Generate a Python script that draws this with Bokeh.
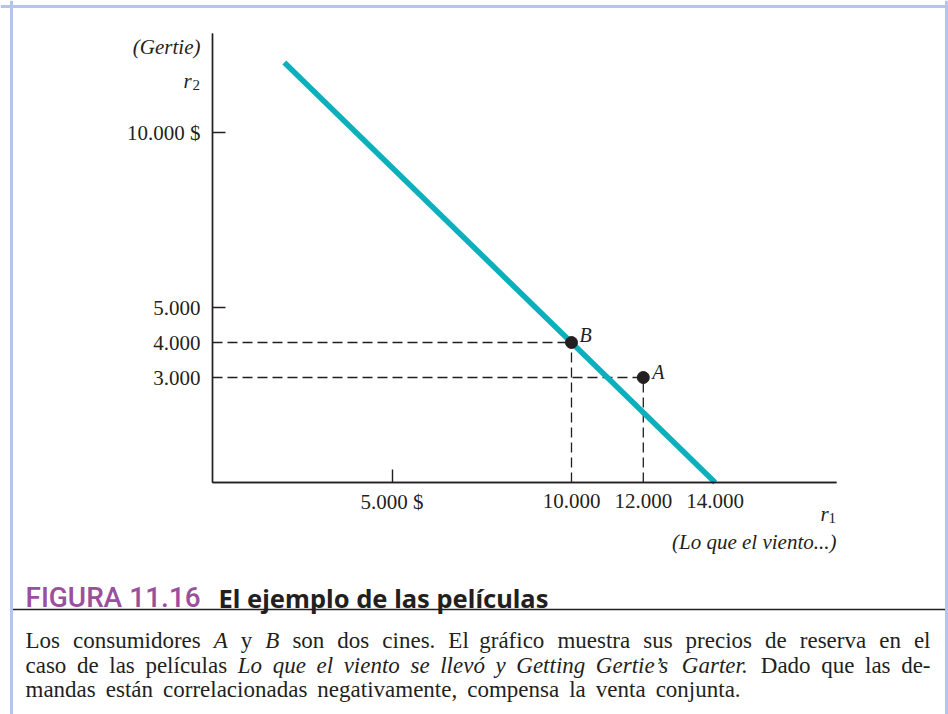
from bokeh.plotting import figure
from bokeh.models import (Range1d, LinearAxis, FixedTicker, Label, Span, BoxAnnotation,
                          ColumnDataSource)
from bokeh.core.properties import value
from bokeh.embed import file_html
from bokeh.resources import INLINE

# ---------------- data ----------------
LINE_R1 = [2000, 14000]          # r1 + r2 = 14.000 $ line
LINE_R2 = [12000, 0]
CONSUMERS = ["A", "B"]
CONS_R1 = [12000, 10000]
CONS_R2 = [3000, 4000]
X_TICKS_MARKED = [5000]
X_TICKS_PLAIN = [10000, 12000, 14000]
Y_TICKS_MARKED = [5000, 10000]
Y_TICKS_PLAIN = [3000, 4000]
X_TICK_LABELS = {5000: "5.000 $", 10000: "10.000", 12000: "12.000", 14000: "14.000"}
Y_TICK_LABELS = {3000: "3.000", 4000: "4.000", 5000: "5.000", 10000: "10.000 $"}

# ---------------- layout / style ----------------
W, H = 948, 714
X0, XS = 212, 0.0359      # canvas px of r1=0, px per unit
Y0, YS = 482, 0.035       # canvas px of r2=0, px per unit
INK = "#231f20"
TEAL = "#0bb0bc"
PURPLE = "#9a4f9f"
FRAME = "#b4c6e8"
SERIF = "Liberation Serif"
SANS = "Noto Sans"


def dx(px):
    return (px - X0) / XS


def dy(py):
    return (Y0 - py) / YS


p = figure(width=W, height=H, output_backend="svg", toolbar_location=None, tools="",
           x_range=Range1d(-X0 / XS, (W - X0) / XS),
           y_range=Range1d((Y0 - H) / YS, Y0 / YS),
           x_axis_type=None, y_axis_type=None, min_border=0, title=None)
p.outline_line_color = None
p.background_fill_color = "white"
p.border_fill_color = "white"


def make_axis(ticks, labels, tick_len, standoff, bounds):
    return LinearAxis(fixed_location=0, bounds=bounds, ticker=FixedTicker(ticks=ticks),
                      major_label_overrides={t: labels[t] for t in ticks},
                      major_tick_in=tick_len, major_tick_out=0,
                      minor_tick_in=0, minor_tick_out=0,
                      axis_line_color=INK, axis_line_width=1.4,
                      major_tick_line_color=INK, major_tick_line_width=1.4,
                      major_label_text_font=SERIF, major_label_text_font_size="21px",
                      major_label_text_color=INK, major_label_standoff=standoff)


xb = (0, dx(836))
yb = (0, dy(33))
p.add_layout(make_axis(X_TICKS_MARKED, X_TICK_LABELS, 13, 7, xb), "below")
p.add_layout(make_axis(X_TICKS_PLAIN, X_TICK_LABELS, 0, 11, xb), "below")
p.add_layout(make_axis(Y_TICKS_MARKED, Y_TICK_LABELS, 13, 12, yb), "left")
p.add_layout(make_axis(Y_TICKS_PLAIN, Y_TICK_LABELS, 0, 12, yb), "left")

src = ColumnDataSource(dict(r1=CONS_R1, r2=CONS_R2, name=CONSUMERS,
                            ox=[9, 8], oy=[-6, -8]))

# dashed guides
p.segment(x0=0, y0="r2", x1="r1", y1="r2", source=src, line_color=INK,
          line_width=1.3, line_dash="10 5")
p.segment(x0="r1", y0=0, x1="r1", y1="r2", source=src, line_color=INK,
          line_width=1.3, line_dash="10 5")

# teal line
p.line(LINE_R1, LINE_R2, line_color=TEAL, line_width=5.5, line_cap="butt")

# consumers
p.scatter("r1", "r2", source=src, size=12, color=INK)
p.text("r1", "r2", text="name", source=src, x_offset="ox", y_offset="oy",
       text_font=value(SERIF), text_font_style="italic", text_font_size="20px",
       text_color=INK, text_baseline="alphabetic", text_align="left")


def lab(text, px, py, size="21px", font=SERIF, style="normal", align="left", color=INK):
    p.add_layout(Label(x=dx(px), y=dy(py), text=text, text_font=font,
                       text_font_size=size, text_font_style=style,
                       text_align=align, text_baseline="alphabetic", text_color=color))


# axis titles
lab("(Gertie)", 200, 46, style="italic", align="right")
lab("r", 183, 80, style="italic")
lab("2", 192, 84, size="15px")
lab("r", 820, 513, style="italic")
lab("1", 828, 517, size="15px")
lab("(Lo que el viento...)", 836, 541, style="italic", align="right")

# frame of the figure box and rule under the caption title
p.add_layout(BoxAnnotation(left=dx(10), right=dx(946), top=dy(608.2), bottom=dy(609.8),
                           fill_color=INK, fill_alpha=1, line_color=None))
for loc in (dx(11), dx(946)):
    p.add_layout(Span(location=loc, dimension="height", line_color=FRAME, line_width=3))
p.add_layout(Span(location=dy(6), dimension="width", line_color=FRAME, line_width=3))

# caption title
lab("FIGURA 11.16", 25, 597, size="28px", font="Roboto Medium, Noto Sans", color=PURPLE)
lab("El ejemplo de las películas", 218, 597, size="25.5px", font=SANS, style="bold")

# caption paragraph: words set between the reference line extents
# (Times/Liberation Serif advance widths, 1/1000 em)
W_REG = dict(zip(" abcdefghijlmnopqrstuvxyzáéíóABDGL.,-’",
                 [250, 444, 500, 444, 500, 444, 333, 500, 500, 278, 278, 278, 778, 500, 500,
                  500, 500, 333, 389, 278, 500, 500, 500, 500, 444, 444, 444, 278, 500,
                  722, 667, 722, 722, 611, 250, 250, 333, 333]))
W_ITA = dict(zip(" abcdefghijlmnopqrstuvxyzáéíóABDGL.,-’",
                 [250, 500, 500, 444, 500, 444, 278, 500, 500, 278, 278, 278, 722, 500, 500,
                  500, 500, 389, 389, 278, 500, 444, 444, 444, 389, 500, 444, 278, 500,
                  611, 611, 722, 722, 556, 250, 250, 333, 333]))
PSIZE = 23
PARA = [
    (640, 25, 930, [("Los", 0), ("consumidores", 0), ("A", 1), ("y", 0), ("B", 1), ("son", 0),
                    ("dos", 0), ("cines.", 0), ("El", 0), ("gráfico", 0), ("muestra", 0),
                    ("sus", 0), ("precios", 0), ("de", 0), ("reserva", 0), ("en", 0), ("el", 0)]),
    (664.5, 25, 930, [("caso", 0), ("de", 0), ("las", 0), ("películas", 0), ("Lo", 1),
                      ("que", 1), ("el", 1), ("viento", 1), ("se", 1), ("llevó", 1), ("y", 1),
                      ("Getting", 1), ("Gertie’s", 1), ("Garter.", 1), ("Dado", 0),
                      ("que", 0), ("las", 0), ("de-", 0)]),
    (689, 25, None, [("mandas", 0), ("están", 0), ("correlacionadas", 0),
                     ("negativamente,", 0), ("compensa", 0), ("la", 0), ("venta", 0),
                     ("conjunta.", 0)]),
]


def word_w(word, ital):
    table = W_ITA if ital else W_REG
    return sum(table.get(c, 500) for c in word) * PSIZE / 1000.0


for base, x_start, x_end, words in PARA:
    widths = [word_w(w, it) for w, it in words]
    if x_end is None:
        gap = 10.0
    else:
        gap = (x_end - x_start - sum(widths)) / (len(words) - 1)
    x = x_start
    for (w, it), ww in zip(words, widths):
        lab(w, x, base, size=f"{PSIZE}px", style="italic" if it else "normal")
        x += ww + gap

open("out.html", "w").write(file_html(p, INLINE))
